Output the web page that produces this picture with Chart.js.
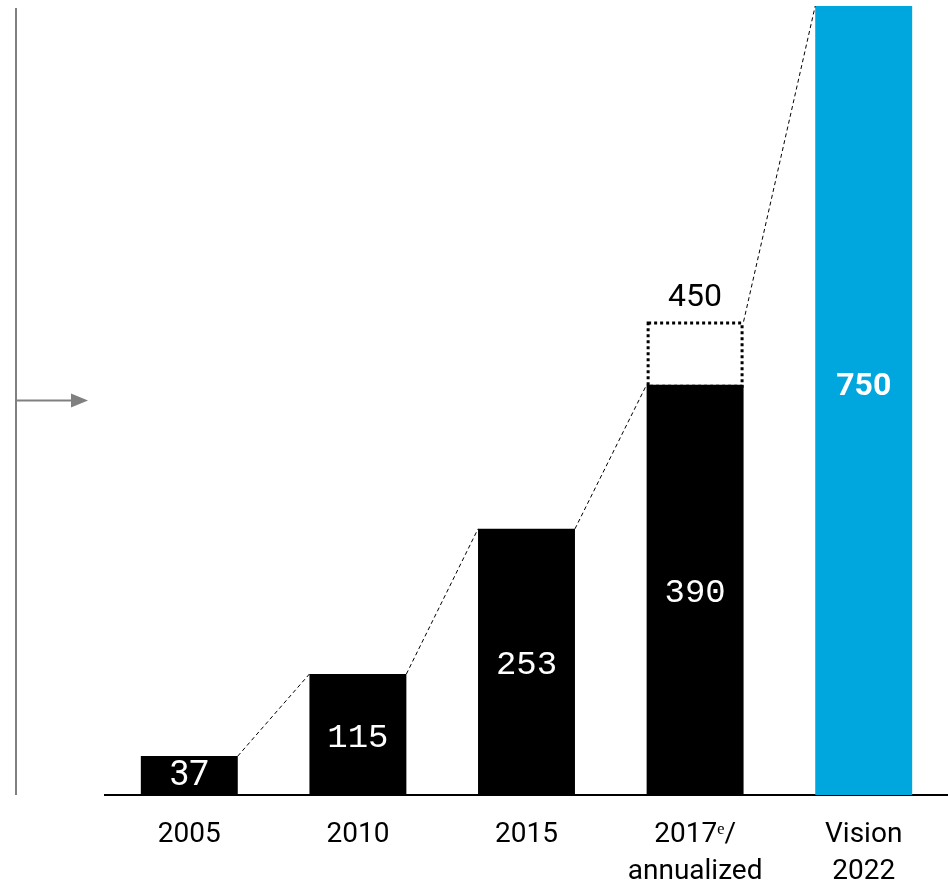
<!DOCTYPE html>
<html>
<head>
<meta charset="utf-8">
<script src="https://cdn.jsdelivr.net/npm/chart.js@4"></script>
<style>
  html, body { margin: 0; padding: 0; background: #fff; }
  #wrap { position: relative; width: 948px; height: 885px; }
</style>
</head>
<body>
<div id="wrap"><canvas id="chart"></canvas></div>
<script>
const categories = [['2005'], ['2010'], ['2015'], ['2017ᵉ/', 'annualized'], ['Vision', '2022']];
const revenue = [37, 115, 253, 390, 750];
const annualized = [null, null, null, 450, null];
const barColors = ['#000000', '#000000', '#000000', '#000000', '#00a6de'];
const yMax = 750;

// dashed connectors, value labels, dotted box and the left marker
const decorations = {
  id: 'decorations',
  afterDatasetsDraw(chart) {
    const { ctx, chartArea } = chart;
    const bars = chart.getDatasetMeta(0).data;
    const box = chart.getDatasetMeta(1).data;

    ctx.save();

    // dotted box for the annualized figure
    annualized.forEach((v, i) => {
      if (v == null) return;
      const el = box[i];
      const half = el.width / 2;
      ctx.strokeStyle = '#000';
      ctx.lineWidth = 3;
      ctx.setLineDash([3, 3]);
      ctx.strokeRect(el.x - half + 1.5, el.y + 1.5, el.width - 3, el.base - el.y);
      ctx.setLineDash([]);
      ctx.fillStyle = '#000';
      ctx.font = '32px Roboto';
      ctx.textAlign = 'center';
      ctx.textBaseline = 'bottom';
      ctx.fillText(String(v), el.x, el.y - 8);
    });

    // thin dashed lines from one bar top to the next
    ctx.strokeStyle = '#000';
    ctx.lineWidth = 1;
    ctx.setLineDash([4, 3]);
    for (let i = 0; i < bars.length - 1; i++) {
      const a = bars[i];
      const b = bars[i + 1];
      const aTop = annualized[i] != null ? box[i].y : a.y;
      ctx.beginPath();
      ctx.moveTo(a.x + a.width / 2, aTop);
      ctx.lineTo(b.x - b.width / 2, b.y);
      ctx.stroke();
    }
    ctx.setLineDash([]);

    // value labels inside the bars
    ctx.textAlign = 'center';
    ctx.textBaseline = 'middle';
    ctx.fillStyle = '#fff';
    bars.forEach((el, i) => {
      const mid = (el.y + el.base) / 2;
      if (i === 0) {
        ctx.font = '35px Roboto';
        ctx.fillText(String(revenue[i]), el.x, mid + 1);
      } else if (i === bars.length - 1) {
        ctx.font = 'bold 32px Roboto';
        ctx.fillText(String(revenue[i]), el.x, mid - 14);
      } else {
        ctx.font = '34px "Liberation Mono"';
        ctx.fillText(String(revenue[i]), el.x, mid + 3);
      }
    });

    // grey vertical rule with arrow on the left
    const arrowY = chart.scales.y.getPixelForValue(375);
    ctx.strokeStyle = '#808080';
    ctx.fillStyle = '#808080';
    ctx.lineWidth = 2;
    ctx.beginPath();
    ctx.moveTo(16, chartArea.top + 2);
    ctx.lineTo(16, chartArea.bottom);
    ctx.stroke();
    ctx.beginPath();
    ctx.moveTo(16, arrowY);
    ctx.lineTo(74, arrowY);
    ctx.stroke();
    ctx.beginPath();
    ctx.moveTo(71, arrowY - 7);
    ctx.lineTo(88, arrowY);
    ctx.lineTo(71, arrowY + 7);
    ctx.closePath();
    ctx.fill();

    ctx.restore();
  },
};

new Chart(document.getElementById('chart'), {
  type: 'bar',
  data: {
    labels: categories,
    datasets: [
      {
        label: 'Revenue',
        data: revenue,
        backgroundColor: barColors,
        borderWidth: 0,
        barPercentage: 0.575,
        categoryPercentage: 1,
        grouped: false,
        order: 1,
      },
      {
        label: 'Annualized',
        data: annualized.map((v, i) => (v == null ? null : [revenue[i], v])),
        backgroundColor: 'rgba(0,0,0,0)',
        borderWidth: 0,
        barPercentage: 0.575,
        categoryPercentage: 1,
        grouped: false,
        order: 2,
      },
    ],
  },
  plugins: [decorations],
  options: {
    responsive: true,
    maintainAspectRatio: false,
    animation: false,
    events: [],
    layout: { padding: { left: 105, top: 6, right: 0, bottom: 0 } },
    plugins: {
      legend: { display: false },
      tooltip: { enabled: false },
    },
    scales: {
      x: {
        grid: { display: false, drawTicks: false },
        border: { display: true, color: '#000', width: 2 },
        ticks: {
          color: '#000',
          padding: 22,
          maxRotation: 0,
          autoSkip: false,
          font: { family: 'Roboto', size: 28, lineHeight: 1.32 },
        },
        afterFit(scale) { scale.height = 90; },
      },
      y: {
        display: false,
        min: 0,
        max: yMax,
      },
    },
  },
});
</script>
</body>
</html>
